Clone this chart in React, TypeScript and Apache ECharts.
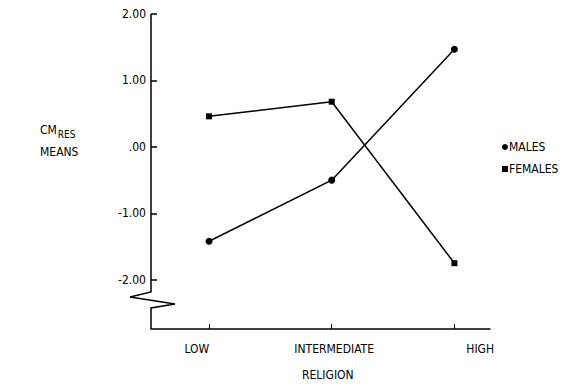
import React, { useEffect, useRef } from "react";
import * as echarts from "echarts";

const categories = ["LOW", "INTERMEDIATE", "HIGH"];
const males = [-1.42, -0.5, 1.47];
const females = [0.46, 0.68, -1.75];
const yTicks = [-2, -1, 0, 1, 2];
const yTickLabels = ["-2.00", "-1.00", ".00", "1.00", "2.00"];
const seriesNames = ["MALES", "FEMALES"];

const FONT = "'DejaVu Sans Condensed', 'Liberation Sans Narrow', 'DejaVu Sans', sans-serif";
const GRID = { left: 151, right: 86, top: 14, bottom: 57 };

export default function App() {
  const ref = useRef<HTMLDivElement>(null);
  useEffect(() => {
    if (!ref.current) return;
    const chart = echarts.init(ref.current, null, { renderer: "svg" });
    const xPos = categories.map((_, i) => i + 1);
    const labelShift = [-0.1, 0.02, 0.21];
    chart.setOption({
      animation: false,
      backgroundColor: "#fff",
      grid: GRID,
      xAxis: {
        type: "value",
        min: 0.527,
        max: 3.29,
        splitLine: { show: false },
        axisLine: { show: true, onZero: false, lineStyle: { color: "#000", width: 1.5 } },
        axisTick: {
          show: true,
          inside: true,
          length: 5,
          customValues: xPos,
          lineStyle: { color: "#000", width: 1 },
        },
        axisLabel: {
          customValues: xPos.map((v, i) => v + labelShift[i]),
          formatter: (v: number) => categories[Math.round(v) - 1] ?? "",
          color: "#000",
          fontFamily: FONT,
          fontSize: 12,
          margin: 14,
        },
      },
      yAxis: {
        type: "value",
        min: -2.74,
        max: 2,
        splitLine: { show: false },
        axisLine: { show: false },
        axisTick: {
          show: true,
          inside: true,
          length: 6,
          customValues: yTicks,
          lineStyle: { color: "#000", width: 1.5 },
        },
        axisLabel: {
          customValues: yTicks,
          formatter: (v: number) => yTickLabels[yTicks.indexOf(Math.round(v))] ?? "",
          color: "#000",
          fontFamily: FONT,
          fontSize: 12,
          margin: 5,
        },
      },
      legend: {
        orient: "vertical",
        left: 497,
        top: 136,
        itemGap: 10,
        itemWidth: 6,
        itemHeight: 6,
        data: [
          { name: seriesNames[0], icon: "circle" },
          { name: seriesNames[1], icon: "rect" },
        ],
        textStyle: { color: "#000", fontFamily: FONT, fontSize: 12, padding: [0, 0, 0, -4] },
      },
      graphic: [
        {
          type: "polyline",
          shape: {
            points: [
              [151, 14],
              [151, 292],
              [130, 297],
              [175, 304],
              [151, 308],
              [151, 329],
            ],
          },
          style: { stroke: "#000", lineWidth: 1.5, fill: null },
        },
        {
          type: "text",
          left: 40,
          top: 124,
          style: {
            text: "{a|CM}{b|RES}",
            rich: {
              a: { fontFamily: FONT, fontSize: 12, fill: "#000" },
              b: { fontFamily: FONT, fontSize: 10, fill: "#000", padding: [8, 0, 0, 1] },
            },
          },
        },
        {
          type: "text",
          left: 40,
          top: 146,
          style: { text: "MEANS", fontFamily: FONT, fontSize: 12, fill: "#000" },
        },
        {
          type: "text",
          left: 302,
          top: 369,
          style: { text: "RELIGION", fontFamily: FONT, fontSize: 12, fill: "#000" },
        },
      ],
      series: [
        {
          name: seriesNames[0],
          type: "line",
          data: males.map((v, i) => [xPos[i], v]),
          symbol: "circle",
          symbolSize: 7,
          itemStyle: { color: "#000" },
          lineStyle: { color: "#000", width: 1.5 },
        },
        {
          name: seriesNames[1],
          type: "line",
          data: females.map((v, i) => [xPos[i], v]),
          symbol: "rect",
          symbolSize: 6,
          itemStyle: { color: "#000" },
          lineStyle: { color: "#000", width: 1.5 },
        },
      ],
    });
    return () => chart.dispose();
  }, []);
  return <div ref={ref} style={{ width: 576, height: 386, position: "absolute", left: 0, top: 0 }} />;
}
